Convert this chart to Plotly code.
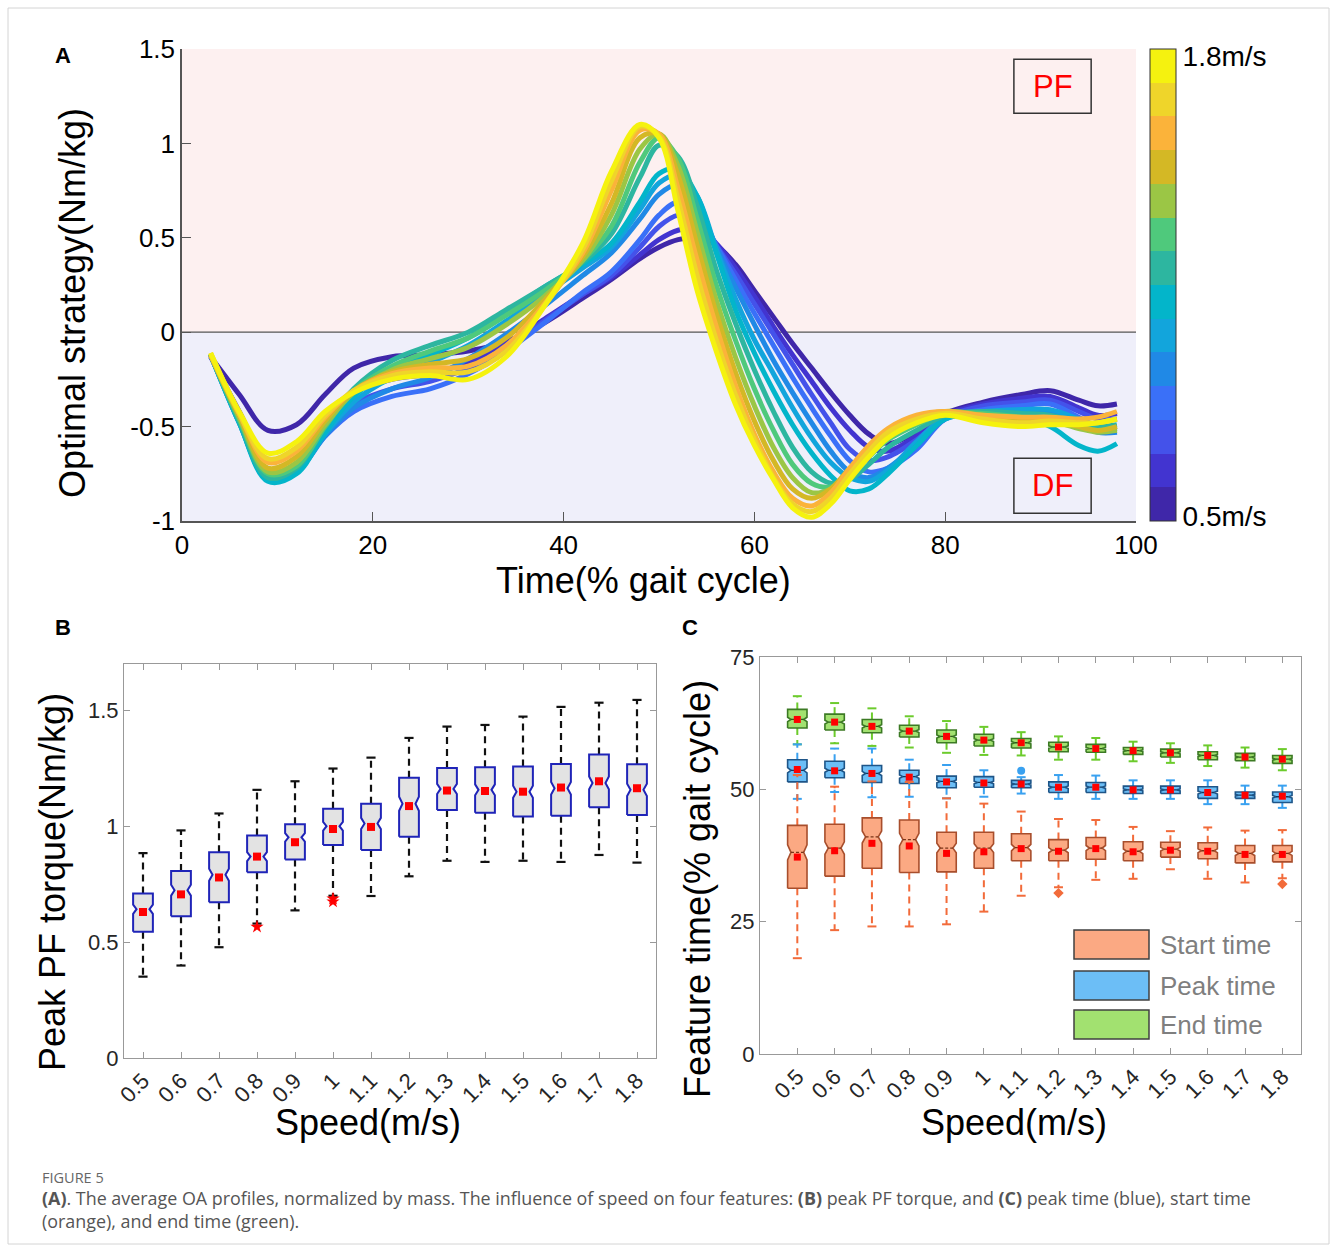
import plotly.graph_objects as go

W, H = 1333, 1250
FONT = "Liberation Sans, Arial, Helvetica, sans-serif"

# ---------------- Panel A data ----------------
speeds = [0.5, 0.6, 0.7, 0.8, 0.9, 1.0, 1.1, 1.2, 1.3, 1.4, 1.5, 1.6, 1.7, 1.8]
speed_labels = ["0.5", "0.6", "0.7", "0.8", "0.9", "1", "1.1", "1.2", "1.3", "1.4", "1.5", "1.6", "1.7", "1.8"]
gait_pct = [3, 6, 9, 12, 15, 18, 22, 26, 30, 34, 38, 42, 45, 48, 50, 52, 54, 56, 58, 60,
            62, 64, 66, 68, 70, 72, 74, 77, 80, 84, 88, 91, 94, 96, 98]

oa_05 = [-0.13, -0.33, -0.52, -0.49, -0.33, -0.19, -0.13, -0.12, -0.10, -0.05, 0.05, 0.18, 0.28, 0.39, 0.45, 0.49, 0.50, 0.46, 0.36, 0.22, 0.08, -0.06, -0.19, -0.32, -0.44, -0.54, -0.59, -0.53, -0.43, -0.37, -0.33, -0.31, -0.36, -0.39, -0.38]
oa_06 = [-0.13, -0.42, -0.68, -0.62, -0.45, -0.32, -0.25, -0.22, -0.16, -0.06, 0.07, 0.20, 0.29, 0.41, 0.49, 0.54, 0.55, 0.47, 0.34, 0.19, 0.03, -0.12, -0.26, -0.40, -0.52, -0.61, -0.63, -0.55, -0.44, -0.38, -0.35, -0.34, -0.40, -0.44, -0.43]
oa_07 = [-0.12, -0.45, -0.74, -0.70, -0.52, -0.38, -0.30, -0.26, -0.19, -0.08, 0.06, 0.20, 0.30, 0.45, 0.56, 0.62, 0.60, 0.46, 0.31, 0.15, -0.01, -0.17, -0.33, -0.48, -0.62, -0.68, -0.66, -0.57, -0.45, -0.39, -0.37, -0.36, -0.42, -0.46, -0.46]
oa_08 = [-0.12, -0.47, -0.77, -0.73, -0.55, -0.42, -0.34, -0.30, -0.22, -0.10, 0.05, 0.21, 0.32, 0.49, 0.62, 0.69, 0.64, 0.46, 0.28, 0.10, -0.07, -0.24, -0.40, -0.55, -0.68, -0.74, -0.72, -0.62, -0.46, -0.41, -0.39, -0.38, -0.45, -0.50, -0.51]
oa_09 = [-0.12, -0.48, -0.78, -0.74, -0.55, -0.40, -0.30, -0.24, -0.14, -0.01, 0.14, 0.30, 0.42, 0.60, 0.73, 0.78, 0.68, 0.45, 0.24, 0.04, -0.15, -0.32, -0.48, -0.63, -0.74, -0.77, -0.72, -0.60, -0.46, -0.43, -0.42, -0.42, -0.48, -0.53, -0.53]
oa_10 = [-0.12, -0.48, -0.78, -0.74, -0.54, -0.37, -0.24, -0.16, -0.07, 0.06, 0.20, 0.34, 0.45, 0.65, 0.79, 0.83, 0.72, 0.44, 0.18, -0.04, -0.22, -0.40, -0.56, -0.69, -0.77, -0.79, -0.73, -0.58, -0.45, -0.42, -0.41, -0.41, -0.46, -0.50, -0.50]
oa_11 = [-0.12, -0.48, -0.79, -0.75, -0.53, -0.34, -0.20, -0.12, -0.03, 0.10, 0.24, 0.36, 0.47, 0.69, 0.84, 0.86, 0.72, 0.42, 0.12, -0.11, -0.31, -0.49, -0.64, -0.76, -0.84, -0.83, -0.75, -0.60, -0.46, -0.43, -0.45, -0.50, -0.60, -0.63, -0.59]
oa_12 = [-0.12, -0.47, -0.77, -0.72, -0.50, -0.30, -0.15, -0.07, 0.00, 0.12, 0.24, 0.37, 0.52, 0.82, 0.99, 0.93, 0.67, 0.33, 0.05, -0.20, -0.42, -0.61, -0.74, -0.80, -0.78, -0.70, -0.61, -0.52, -0.44, -0.42, -0.43, -0.44, -0.48, -0.50, -0.49]
oa_13 = [-0.12, -0.46, -0.75, -0.71, -0.50, -0.31, -0.18, -0.10, -0.03, 0.09, 0.22, 0.38, 0.56, 0.90, 1.03, 0.92, 0.60, 0.25, -0.04, -0.30, -0.52, -0.70, -0.80, -0.82, -0.76, -0.66, -0.57, -0.49, -0.43, -0.43, -0.45, -0.46, -0.50, -0.52, -0.51]
oa_14 = [-0.12, -0.45, -0.74, -0.69, -0.49, -0.32, -0.20, -0.14, -0.08, 0.04, 0.19, 0.38, 0.62, 0.97, 1.05, 0.88, 0.53, 0.17, -0.13, -0.39, -0.61, -0.77, -0.85, -0.83, -0.75, -0.63, -0.54, -0.47, -0.42, -0.44, -0.46, -0.47, -0.51, -0.53, -0.52]
oa_15 = [-0.12, -0.44, -0.72, -0.66, -0.47, -0.31, -0.21, -0.17, -0.14, -0.03, 0.17, 0.40, 0.68, 1.03, 1.05, 0.83, 0.46, 0.10, -0.21, -0.47, -0.68, -0.83, -0.88, -0.83, -0.72, -0.61, -0.52, -0.45, -0.42, -0.45, -0.47, -0.46, -0.50, -0.52, -0.50]
oa_16 = [-0.12, -0.43, -0.69, -0.63, -0.45, -0.31, -0.22, -0.19, -0.18, -0.07, 0.15, 0.42, 0.75, 1.07, 1.05, 0.76, 0.38, 0.03, -0.28, -0.54, -0.74, -0.88, -0.92, -0.85, -0.72, -0.60, -0.51, -0.44, -0.42, -0.44, -0.45, -0.45, -0.46, -0.45, -0.42]
oa_17 = [-0.11, -0.43, -0.67, -0.61, -0.44, -0.31, -0.23, -0.21, -0.21, -0.10, 0.14, 0.44, 0.80, 1.09, 1.04, 0.70, 0.30, -0.04, -0.33, -0.57, -0.77, -0.91, -0.95, -0.88, -0.75, -0.63, -0.53, -0.46, -0.43, -0.46, -0.48, -0.47, -0.48, -0.48, -0.46]
oa_18 = [-0.11, -0.42, -0.64, -0.58, -0.42, -0.32, -0.25, -0.23, -0.25, -0.13, 0.14, 0.47, 0.85, 1.10, 1.03, 0.64, 0.22, -0.10, -0.38, -0.60, -0.78, -0.93, -0.98, -0.91, -0.78, -0.66, -0.56, -0.48, -0.44, -0.48, -0.50, -0.49, -0.49, -0.48, -0.46]
oa_profiles = [oa_05, oa_06, oa_07, oa_08, oa_09, oa_10, oa_11, oa_12, oa_13, oa_14, oa_15, oa_16, oa_17, oa_18]

speed_colors = ["#3F27A9", "#4234D0", "#4452EA", "#3A70F8", "#2089E6", "#12A5DC", "#03B5CA",
                "#2DB6A0", "#4FC97C", "#9BC645", "#D4B825", "#FBB33A", "#EFD52A", "#F5F20F"]

# ---------------- Panel B data ----------------
b_q1 = [0.545, 0.612, 0.672, 0.801, 0.857, 0.919, 0.897, 0.955, 1.070, 1.058, 1.042, 1.045, 1.082, 1.048]
b_med = [0.642, 0.724, 0.791, 0.869, 0.952, 1.000, 1.012, 1.097, 1.161, 1.157, 1.149, 1.164, 1.187, 1.157]
b_q3 = [0.710, 0.807, 0.888, 0.960, 1.009, 1.075, 1.097, 1.209, 1.251, 1.254, 1.258, 1.269, 1.309, 1.267]
b_lo = [0.351, 0.399, 0.478, 0.580, 0.637, 0.700, 0.699, 0.784, 0.851, 0.846, 0.851, 0.846, 0.876, 0.843]
b_hi = [0.884, 0.982, 1.055, 1.157, 1.194, 1.249, 1.296, 1.381, 1.430, 1.437, 1.473, 1.515, 1.533, 1.545]
b_mean = [0.630, 0.706, 0.779, 0.869, 0.931, 0.988, 0.997, 1.087, 1.154, 1.152, 1.149, 1.167, 1.194, 1.164]
b_out_speed = [0.8, 1.0, 1.0]
b_out_val = [0.566, 0.688, 0.675]

# ---------------- Panel C data ----------------
s_q1 = [31.3, 33.6, 35.1, 34.3, 34.4, 35.1, 36.5, 36.5, 36.8, 36.5, 37.2, 36.9, 36.1, 36.3]
s_med = [38.1, 38.9, 41.0, 40.5, 38.9, 38.9, 39.0, 38.5, 38.9, 38.3, 38.7, 38.4, 37.9, 37.9]
s_q3 = [43.2, 43.4, 44.6, 44.2, 41.9, 41.9, 41.6, 40.5, 40.9, 40.1, 40.0, 39.9, 39.4, 39.4]
s_lo = [18.1, 23.4, 24.1, 24.1, 24.5, 26.9, 29.9, 31.5, 32.9, 33.1, 34.9, 33.1, 32.4, 33.2]
s_hi = [52.7, 50.5, 51.5, 51.4, 48.3, 47.3, 45.8, 44.4, 44.2, 42.9, 42.1, 42.8, 42.2, 42.3]
s_mean = [37.2, 38.4, 39.8, 39.3, 37.9, 38.2, 38.8, 38.3, 38.8, 38.2, 38.5, 38.3, 37.7, 37.7]
s_out_speed = [1.2, 1.8]
s_out_val = [30.4, 32.1]

p_q1 = [51.4, 52.2, 51.3, 51.1, 50.3, 50.4, 50.3, 49.4, 49.4, 49.2, 49.2, 48.3, 48.3, 47.5]
p_med = [53.6, 53.6, 53.0, 52.4, 51.5, 51.3, 51.0, 50.4, 50.4, 49.9, 49.9, 49.4, 48.9, 48.6]
p_q3 = [55.6, 55.3, 54.5, 53.6, 52.5, 52.4, 51.7, 51.4, 51.3, 50.6, 50.6, 50.5, 49.5, 49.5]
p_lo = [48.2, 49.5, 48.5, 48.6, 48.3, 48.6, 49.2, 48.2, 48.2, 48.2, 48.2, 47.2, 47.2, 46.5]
p_hi = [58.5, 57.7, 57.7, 55.6, 54.6, 53.6, 52.3, 52.7, 52.6, 51.7, 51.7, 51.7, 50.7, 50.7]
p_mean = [53.75, 53.5, 53.0, 52.3, 51.4, 51.2, 51.0, 50.4, 50.4, 49.9, 49.9, 49.4, 48.9, 48.7]
p_out_speed = [1.1]
p_out_val = [53.5]

e_q1 = [61.6, 61.2, 60.7, 59.9, 58.8, 58.2, 57.8, 57.1, 57.0, 56.6, 56.1, 55.6, 55.4, 54.9]
e_med = [63.2, 62.7, 61.9, 61.0, 60.0, 59.3, 58.8, 58.0, 57.7, 57.3, 56.9, 56.4, 56.1, 55.7]
e_q3 = [65.1, 64.2, 63.2, 62.1, 61.2, 60.4, 59.6, 58.9, 58.5, 57.9, 57.6, 57.1, 56.8, 56.4]
e_lo = [58.5, 58.7, 58.2, 57.9, 56.9, 56.5, 56.4, 55.6, 55.6, 55.3, 55.0, 54.4, 54.1, 53.6]
e_hi = [67.6, 66.3, 65.3, 63.8, 62.9, 61.8, 60.8, 60.0, 59.7, 59.0, 58.7, 58.3, 57.9, 57.6]
e_mean = [63.2, 62.7, 61.9, 61.0, 60.0, 59.3, 58.8, 58.0, 57.7, 57.3, 56.9, 56.4, 56.1, 55.7]

legend_labels = ["Start time", "Peak time", "End time"]

# ---------------- helpers ----------------
def px(xp):
    return xp / W

def py(yp):
    return 1 - yp / H

pos = {s: i + 1 for i, s in enumerate(speeds)}

fig = go.Figure()

# ---------------- Panel A ----------------
for sp, prof, col in zip(speeds, oa_profiles, speed_colors):
    fig.add_trace(go.Scatter(x=gait_pct, y=prof, mode="lines",
                             line=dict(color=col, width=5, shape="spline", smoothing=1.0),
                             xaxis="x", yaxis="y", showlegend=False, hoverinfo="skip",
                             name=f"{sp} m/s"))

cs = []
for k, c in enumerate(speed_colors):
    cs.append([k / 14, c])
    cs.append([(k + 1) / 14, c])
fig.add_trace(go.Scatter(
    x=[-50], y=[0], mode="markers", xaxis="x", yaxis="y", showlegend=False, hoverinfo="skip",
    marker=dict(color=[1.0], colorscale=cs, cmin=0.45, cmax=1.85, showscale=True, size=1,
                colorbar=dict(x=px(1150), xanchor="left", y=py(285), yanchor="middle",
                              len=472, lenmode="pixels", thickness=26, thicknessmode="pixels",
                              xpad=0, ypad=0, outlinewidth=1, outlinecolor="#333333",
                              tickvals=[0.465, 1.83], ticktext=["0.5m/s", "1.8m/s"], ticks="",
                              tickfont=dict(size=28, color="black", family=FONT)))))


# ---------------- box helpers ----------------
HW = 0.26
NW = 0.17
KN = 0.12
CAP = 0.12


def add_notched(c, q1, med, q3, xa, ya, fill, edge, ew):
    n = KN * (q3 - q1)
    xs = [c - HW, c - HW, c - NW, c - HW, c - HW, c + HW, c + HW, c + NW, c + HW, c + HW, c - HW]
    ys = [q1, med - n, med, med + n, q3, q3, med + n, med, med - n, q1, q1]
    fig.add_trace(go.Scatter(x=xs, y=ys, mode="lines", fill="toself", fillcolor=fill,
                             line=dict(color=edge, width=ew), xaxis=xa, yaxis=ya,
                             showlegend=False, hoverinfo="skip"))


def add_whiskers(c, q1, q3, lo, hi, xa, ya, col, cap_col, w=2):
    fig.add_trace(go.Scatter(x=[c, c, None, c, c], y=[q3, hi, None, q1, lo], mode="lines",
                             line=dict(color=col, width=w, dash="7px,5px"), xaxis=xa, yaxis=ya,
                             showlegend=False, hoverinfo="skip"))
    fig.add_trace(go.Scatter(x=[c - CAP, c + CAP, None, c - CAP, c + CAP], y=[hi, hi, None, lo, lo],
                             mode="lines", line=dict(color=cap_col, width=w), xaxis=xa, yaxis=ya,
                             showlegend=False, hoverinfo="skip"))


# ---------------- Panel B ----------------
for i, sp in enumerate(speeds):
    c = pos[sp]
    add_whiskers(c, b_q1[i], b_q3[i], b_lo[i], b_hi[i], "x2", "y2", "#111111", "#111111", 2.2)
    add_notched(c, b_q1[i], b_med[i], b_q3[i], "x2", "y2", "#E3E3E3", "#1F24B8", 2)
fig.add_trace(go.Scatter(x=[pos[s] for s in speeds], y=b_mean, mode="markers",
                         marker=dict(symbol="square", size=8, color="#FF0000"),
                         xaxis="x2", yaxis="y2", showlegend=False, hoverinfo="skip"))
fig.add_trace(go.Scatter(x=[pos[s] for s in b_out_speed], y=b_out_val, mode="markers",
                         marker=dict(symbol="star", size=10, color="#FF0000"),
                         xaxis="x2", yaxis="y2", showlegend=False, hoverinfo="skip"))

# ---------------- Panel C ----------------
groups = [
    dict(q1=e_q1, med=e_med, q3=e_q3, lo=e_lo, hi=e_hi, fill="#A2E170", edge="#3C7A24",
         wh="#6CCB2C", md="#2E5A1A"),
    dict(q1=p_q1, med=p_med, q3=p_q3, lo=p_lo, hi=p_hi, fill="#6CBEF6", edge="#1E5588",
         wh="#39A1F0", md="#123A60"),
    dict(q1=s_q1, med=s_med, q3=s_q3, lo=s_lo, hi=s_hi, fill="#FBA983", edge="#A84E2C",
         wh="#F26B3A", md="#7A3418"),
]
for g in groups:
    for i, sp in enumerate(speeds):
        c = pos[sp]
        add_whiskers(c, g["q1"][i], g["q3"][i], g["lo"][i], g["hi"][i], "x3", "y3", g["wh"], g["wh"], 2)
        add_notched(c, g["q1"][i], g["med"][i], g["q3"][i], "x3", "y3", g["fill"], g["edge"], 1.6)
        fig.add_trace(go.Scatter(x=[c - NW, c + NW], y=[g["med"][i], g["med"][i]], mode="lines",
                                 line=dict(color=g["md"], width=1.3, dash="3px,2px"),
                                 xaxis="x3", yaxis="y3", showlegend=False, hoverinfo="skip"))

fig.add_trace(go.Scatter(x=[pos[s] for s in p_out_speed], y=p_out_val, mode="markers",
                         marker=dict(symbol="circle", size=8, color="#39A1F0"),
                         xaxis="x3", yaxis="y3", showlegend=False, hoverinfo="skip"))
fig.add_trace(go.Scatter(x=[pos[s] for s in s_out_speed], y=s_out_val, mode="markers",
                         marker=dict(symbol="diamond", size=8, color="#F26B3A"),
                         xaxis="x3", yaxis="y3", showlegend=False, hoverinfo="skip"))
for means in (e_mean, p_mean, s_mean):
    fig.add_trace(go.Scatter(x=[pos[s] for s in speeds], y=means, mode="markers",
                             marker=dict(symbol="square", size=7, color="#FF0000"),
                             xaxis="x3", yaxis="y3", showlegend=False, hoverinfo="skip"))

# ---------------- shapes ----------------
shapes = [
    dict(type="rect", xref="x", yref="y", x0=0, x1=100, y0=0, y1=1.5, fillcolor="#FDF0F0",
         line=dict(width=0), layer="below"),
    dict(type="rect", xref="x", yref="y", x0=0, x1=100, y0=-1, y1=0, fillcolor="#EFEFFA",
         line=dict(width=0), layer="below"),
    dict(type="line", xref="x", yref="y", x0=0, x1=100, y0=0, y1=0,
         line=dict(color="#555555", width=1.2), layer="below"),
    dict(type="rect", xref="x", yref="y", x0=87.2, x1=95.3, y0=1.16, y1=1.446,
         line=dict(color="#333333", width=1.5)),
    dict(type="rect", xref="x", yref="y", x0=87.2, x1=95.3, y0=-0.959, y1=-0.667,
         line=dict(color="#333333", width=1.5)),
    dict(type="rect", xref="paper", yref="paper", x0=px(8), x1=px(1329), y0=py(1244), y1=py(8),
         line=dict(color="#D4D4D4", width=1)),
]
leg_fills = ["#FBA983", "#6CBEF6", "#A2E170"]
leg_tops = [930, 971, 1010]
for f, t in zip(leg_fills, leg_tops):
    shapes.append(dict(type="rect", xref="paper", yref="paper", x0=px(1074), x1=px(1149),
                       y0=py(t + 29), y1=py(t), fillcolor=f, line=dict(color="#404040", width=1.5)))

# ---------------- annotations ----------------
ann = []


def text(x, y, s, size, color="black", bold=False, angle=0, xanchor="center", family=FONT):
    ann.append(dict(xref="paper", yref="paper", x=px(x), y=py(y), text=f"<b>{s}</b>" if bold else s,
                    showarrow=False, textangle=angle, xanchor=xanchor, yanchor="middle",
                    font=dict(size=size, color=color, family=family)))


text(63, 55, "A", 22, bold=True)
text(63, 627, "B", 22, bold=True)
text(690, 627, "C", 22, bold=True)
text(73, 303, "Optimal strategy(Nm/kg)", 36, angle=-90)
text(643, 580, "Time(% gait cycle)", 36)
text(52, 882, "Peak PF torque(Nm/kg)", 36, angle=-90)
text(368, 1122, "Speed(m/s)", 36)
text(697, 889, "Feature time(% gait cycle)", 36, angle=-90)
text(1014, 1122, "Speed(m/s)", 36)
ann.append(dict(xref="x", yref="y", x=91.25, y=1.303, text="PF", showarrow=False,
                font=dict(size=31, color="#FF0000", family=FONT)))
ann.append(dict(xref="x", yref="y", x=91.25, y=-0.813, text="DF", showarrow=False,
                font=dict(size=31, color="#FF0000", family=FONT)))
for lab, t in zip(legend_labels, leg_tops):
    text(1158, t + 15, lab, 26, color="#7F7F7F", xanchor="left")

CAP_FONT = "Open Sans, Noto Sans, sans-serif"
text(40, 1177, "FIGURE 5", 14.5, color="#666666", xanchor="left", family=CAP_FONT)
text(40, 1198, "<b>(A)</b>. The average OA profiles, normalized by mass. The influence of speed on four "
               "features: <b>(B)</b> peak PF torque, and <b>(C)</b> peak time (blue), start time",
     17.9, color="#555555", xanchor="left", family=CAP_FONT)
text(40, 1221, "(orange), and end time (green).", 17.9, color="#555555", xanchor="left", family=CAP_FONT)

# ---------------- axes ----------------
axA = dict(showline=True, linecolor="#555555", linewidth=1.5, ticks="inside", ticklen=9,
           tickcolor="#555555", tickwidth=1.3, showgrid=False, zeroline=False, automargin=False,
           tickfont=dict(size=26, color="black", family=FONT))
axBC = dict(showline=True, linecolor="#999999", linewidth=1.2, mirror="ticks", ticks="inside",
            ticklen=6, tickcolor="#999999", tickwidth=1.2, showgrid=False, zeroline=False,
            automargin=False, tickfont=dict(size=22, color="#262626", family=FONT))

fig.update_layout(
    width=W, height=H, margin=dict(l=0, r=0, t=0, b=0, autoexpand=False), autosize=False,
    paper_bgcolor="white", plot_bgcolor="white", showlegend=False,
    font=dict(family=FONT),
    xaxis=dict(domain=[px(182), px(1136)], anchor="y", range=[0, 100],
               tickvals=[0, 20, 40, 60, 80, 100], **axA),
    yaxis=dict(domain=[py(521), py(49)], anchor="x", range=[-1, 1.5],
               tickvals=[-1, -0.5, 0, 0.5, 1, 1.5], ticktext=["-1", "-0.5", "0", "0.5", "1", "1.5"], **axA),
    xaxis2=dict(domain=[px(124), px(656)], anchor="y2", range=[0.5, 14.5],
                tickvals=[pos[s] for s in speeds], ticktext=speed_labels, tickangle=-45, **axBC),
    yaxis2=dict(domain=[py(1058), py(664)], anchor="x2", range=[0, 1.7],
                tickvals=[0, 0.5, 1, 1.5], ticktext=["0", "0.5", "1", "1.5"], **axBC),
    xaxis3=dict(domain=[px(760), px(1301)], anchor="y3", range=[0, 14.5],
                tickvals=[pos[s] for s in speeds], ticktext=speed_labels, tickangle=-45, **axBC),
    yaxis3=dict(domain=[py(1054), py(657)], anchor="x3", range=[0, 75],
                tickvals=[0, 25, 50, 75], **axBC),
    shapes=shapes, annotations=ann,
)

fig.write_html("out.html", config={"displayModeBar": False},
               post_script="document.body.style.margin='0';document.body.style.overflow='hidden';")
